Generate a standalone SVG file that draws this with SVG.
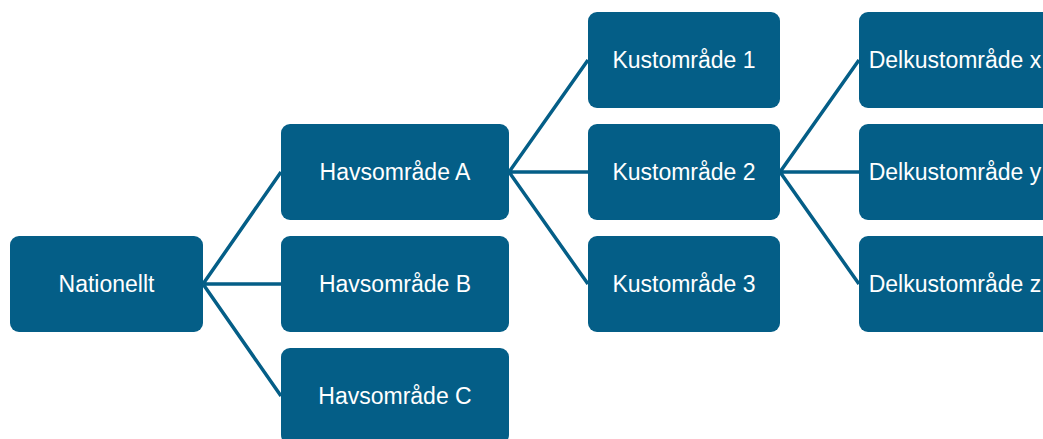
<svg xmlns="http://www.w3.org/2000/svg" width="1043" height="439" viewBox="0 0 1043 439">
<style>
.box{fill:#045E87;}
.lbl{fill:#ffffff;font-family:"Liberation Sans",Arial,sans-serif;font-size:23px;text-anchor:middle;}
.conn{stroke:#045E87;stroke-width:3.5;fill:none;}
</style>
<rect width="1043" height="439" fill="#ffffff"/>
<g id="connectors">
<path class="conn" d="M203,284 L281,172 M203,284 L281,284 M203,284 L281,396"/>
<path class="conn" d="M509,172 L588,60 M509,172 L588,172 M509,172 L588,284"/>
<path class="conn" d="M780,172 L859,60 M780,172 L859,172 M780,172 L859,284"/>
</g>
<g id="nationellt"><rect class="box" x="10" y="236" width="193" height="96" rx="9"/><text class="lbl" x="106.5" y="292">Nationellt</text></g>
<g id="havA"><rect class="box" x="281" y="124" width="228" height="96" rx="9"/><text class="lbl" x="395" y="180">Havsområde A</text></g>
<g id="havB"><rect class="box" x="281" y="236" width="228" height="96" rx="9"/><text class="lbl" x="395" y="292">Havsområde B</text></g>
<g id="havC"><rect class="box" x="281" y="348" width="228" height="96" rx="9"/><text class="lbl" x="395" y="404">Havsområde C</text></g>
<g id="kust1"><rect class="box" x="588" y="12" width="192" height="96" rx="9"/><text class="lbl" x="684" y="68">Kustområde 1</text></g>
<g id="kust2"><rect class="box" x="588" y="124" width="192" height="96" rx="9"/><text class="lbl" x="684" y="180">Kustområde 2</text></g>
<g id="kust3"><rect class="box" x="588" y="236" width="192" height="96" rx="9"/><text class="lbl" x="684" y="292">Kustområde 3</text></g>
<g id="delx"><rect class="box" x="859" y="12" width="192" height="96" rx="9"/><text class="lbl" x="955" y="68">Delkustområde x</text></g>
<g id="dely"><rect class="box" x="859" y="124" width="192" height="96" rx="9"/><text class="lbl" x="955" y="180">Delkustområde y</text></g>
<g id="delz"><rect class="box" x="859" y="236" width="192" height="96" rx="9"/><text class="lbl" x="955" y="292">Delkustområde z</text></g>
</svg>
